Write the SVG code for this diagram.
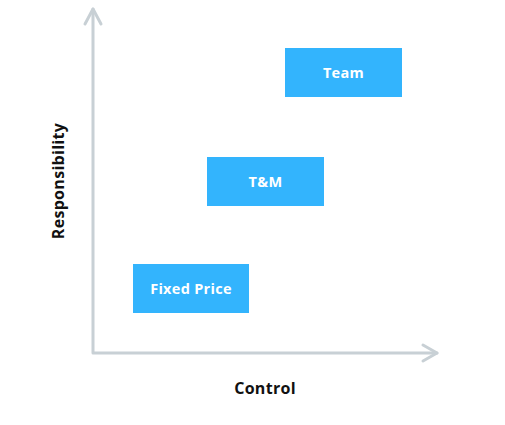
<svg xmlns="http://www.w3.org/2000/svg" width="505" height="425" viewBox="0 0 505 425">
<style>
.box{fill:#33b4fd;}
.lbl{font-family:"Open Sans",Inter,sans-serif;font-weight:700;font-size:14.5px;fill:#ffffff;text-anchor:middle;letter-spacing:0.3px;}
.ax{font-family:"Open Sans",Inter,sans-serif;font-weight:700;font-size:16px;fill:#111111;text-anchor:middle;letter-spacing:0.3px;}
.axis{fill:none;stroke:#c8d0d5;stroke-width:3;stroke-linecap:round;stroke-linejoin:round;}
</style>
<rect width="505" height="425" fill="#ffffff"/>
<g id="connectors">
<path class="axis" d="M93 9 V353 H437"/>
<path class="axis" d="M85 24 L93 9 L101 24"/>
<path class="axis" d="M423 345 L437 353 L423 361"/>
</g>
<g id="fixed-price"><rect class="box" x="133" y="264" width="116" height="49"/><text class="lbl" x="191" y="294">Fixed Price</text></g>
<g id="tm"><rect class="box" x="207" y="157" width="117" height="49"/><text class="lbl" x="265.5" y="187">T&amp;M</text></g>
<g id="team"><rect class="box" x="285" y="48" width="117" height="49"/><text class="lbl" x="343.5" y="78">Team</text></g>
<text class="ax" x="265" y="394">Control</text>
<text class="ax" transform="translate(64 181) rotate(-90)">Responsibility</text>
</svg>
